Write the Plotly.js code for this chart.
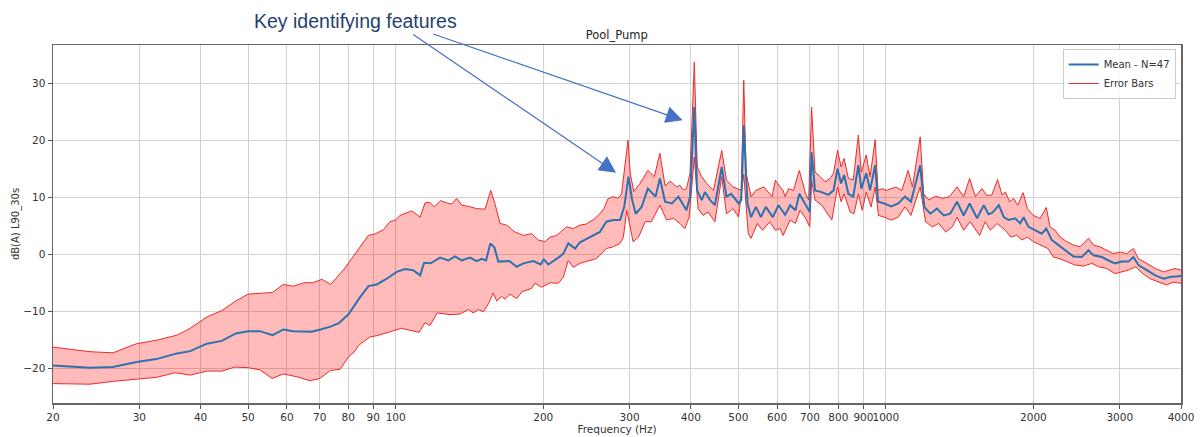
<!DOCTYPE html>
<html>
<head>
<meta charset="utf-8">
<script src="https://cdn.plot.ly/plotly-3.0.1.min.js"></script>
<style>
  html, body { margin: 0; padding: 0; background: #ffffff; }
  #chart { width: 1200px; height: 437px; }
</style>
</head>
<body>
<div id="chart"></div>
<script>
// Pool pump spectrum: mean level with upper/lower error envelope (dB(A), L90 over 30 s)

const upperFreq = [20, 23.8, 26.5, 29.6, 32.5, 35.8, 38.1, 41.2, 44.2, 47, 50, 52.9, 56.1, 59, 61.8, 65, 67.9, 70.7, 73.7, 78.5,
  84, 88, 91, 94.4, 97.4, 100, 102, 107.8, 112.2, 114.8, 117.5, 119.9, 123.6, 127.1, 130.2, 133.2, 136.4, 140.7, 146.3, 152.2,
  156.3, 159.4, 163.3, 168.4, 175.2, 182.2, 189.4, 195.4, 201.7, 206.6, 213, 223.3, 230.4, 237.7, 245, 254.4, 261, 266, 271, 278,
  284, 289, 297.8, 301, 306, 315, 327, 337, 346, 354.5, 363, 374.6, 380, 386, 392, 398.6, 406.7, 412.3, 421, 431,
  445, 462.6, 473, 488, 507, 513, 518.7, 531, 543, 564, 586, 595, 608.5, 617, 623, 633, 648, 666, 686, 696,
  705.5, 717, 734.4, 752, 769.7, 782, 797, 810.5, 822, 838.5, 858, 879, 891, 912, 928.5, 951, 964, 982, 1004, 1048,
  1078, 1110, 1133, 1175, 1194, 1224, 1263, 1305, 1348, 1397, 1441, 1482, 1523, 1571, 1608, 1645, 1690, 1726, 1753, 1789,
  1823, 1858, 1906, 1944, 2000, 2064, 2124, 2163, 2215, 2267, 2340, 2414, 2490, 2590, 2652, 2735, 2822, 2912, 3005, 3100,
  3198, 3275, 3407, 3544, 3686, 3801, 3890, 4000];
const upperDb = [-16.3, -17.1, -17.3, -15.7, -15.1, -14.2, -13.0, -11.0, -9.9, -8.3, -7.0, -6.8, -6.7, -5.3, -5.6, -5.0, -5.0, -4.4, -5.3, -2.6,
  1.0, 3.3, 3.6, 4.3, 5.7, 6.0, 6.8, 7.6, 6.5, 9.0, 9.1, 8.3, 9.4, 9.0, 8.8, 9.8, 8.6, 8.4, 8.0, 7.9,
  11.2, 8.9, 5.4, 5.1, 3.9, 3.3, 3.6, 2.5, 2.2, 3.0, 3.3, 4.8, 4.5, 5.1, 5.3, 6.2, 7.1, 8.0, 9.7, 10.1,
  9.8, 10.6, 20.0, 14.2, 11.0, 12.4, 14.7, 13.6, 17.7, 12.0, 12.8, 11.8, 12.1, 11.3, 11.5, 14.2, 33.7, 15.3, 13.6, 12.4,
  11.2, 18.2, 13.0, 11.8, 11.2, 30.5, 14.2, 10.1, 11.2, 11.8, 10.1, 13.0, 11.8, 11.2, 10.1, 11.5, 11.2, 14.7, 10.6, 9.5,
  25.8, 14.4, 13.6, 12.7, 13.3, 14.2, 18.2, 15.3, 16.8, 13.3, 13.0, 20.9, 14.4, 17.4, 13.6, 20.1, 11.2, 11.5, 11.2, 11.8,
  11.2, 14.7, 11.8, 20.6, 10.6, 9.5, 10.2, 9.8, 10.1, 11.8, 10.1, 13.3, 10.1, 11.5, 10.3, 10.4, 13.1, 10.4, 10.9, 9.2,
  9.8, 8.6, 10.8, 8.0, 6.8, 6.3, 8.2, 4.8, 4.2, 3.0, 2.2, 1.6, 1.3, 2.8, 1.6, 1.3, 0.7, 0.1, 0.4, 0.1,
  1.0, -0.8, -1.6, -2.5, -3.1, -2.8, -2.5, -2.8];

const meanFreq = [20, 23.8, 26.5, 29.6, 32.5, 35.8, 38.1, 41.2, 44.2, 47.2, 50, 52.9, 56.1, 59, 61.8, 64.5, 67.4, 70.3, 73.6, 76.6,
  80.2, 84.2, 88, 91.5, 95.9, 100.5, 104.5, 108.6, 112.2, 114.3, 117.9, 123.2, 128.1, 132.1, 136.4, 141.8, 146.3, 149.8, 152.9, 156,
  159, 162, 165.8, 170.6, 176.6, 182.2, 190.9, 197.6, 200.5, 204.8, 214.7, 219.8, 225, 232.3, 237.7, 249, 261, 269, 278, 287,
  292.6, 298.6, 303.7, 308.8, 317.5, 327, 339, 346, 354.5, 366, 377.5, 392, 398.6, 406.7, 412, 421, 427.5, 438, 448, 462.6,
  473, 483.5, 501, 507, 513, 522, 531, 543, 556, 569, 588, 604, 623, 638, 654, 666, 686, 699.5, 705.5, 717,
  740, 763, 782, 797, 810.5, 822, 838.5, 858, 879, 891, 912, 928.5, 951, 964, 993, 1025, 1060, 1094, 1125, 1175,
  1198, 1232, 1271, 1313, 1353, 1397, 1441, 1482, 1535, 1584, 1620, 1650, 1700, 1740, 1780, 1836, 1879, 1910, 1954, 2016,
  2080, 2124, 2180, 2250, 2340, 2414, 2510, 2590, 2652, 2757, 2845, 2934, 3029, 3125, 3198, 3275, 3407, 3544, 3686, 3801, 4000];
const meanDb = [-19.5, -19.9, -19.8, -18.9, -18.4, -17.4, -17.0, -15.7, -15.2, -13.9, -13.5, -13.5, -14.2, -13.2, -13.5, -13.6, -13.6, -13.2, -12.7, -12.1,
  -10.5, -7.8, -5.6, -5.3, -4.3, -3.1, -2.6, -2.8, -3.7, -1.5, -1.6, -0.6, -1.1, -0.4, -1.1, -0.6, -1.2, -0.8, -1.1, 1.9,
  1.2, -1.3, -1.2, -1.2, -2.2, -1.6, -1.2, -1.8, -0.9, -1.8, -0.6, 0.1, 1.9, 1.0, 2.1, 3.0, 3.9, 5.7, 6.0, 6.0,
  8.3, 13.6, 9.5, 7.1, 8.3, 11.5, 10.1, 13.3, 9.2, 8.9, 10.1, 7.7, 10.1, 25.8, 11.2, 9.5, 10.9, 9.5, 8.6, 15.3,
  10.1, 10.6, 8.9, 9.5, 22.6, 8.9, 6.5, 8.3, 6.5, 8.3, 6.5, 8.6, 6.9, 8.6, 7.7, 10.6, 8.6, 7.4, 17.9, 11.2,
  10.9, 10.4, 11.2, 15.0, 12.4, 13.9, 10.6, 10.1, 15.6, 11.5, 14.2, 11.2, 15.6, 9.2, 8.9, 8.4, 8.9, 10.1, 9.2, 15.6,
  8.3, 7.1, 8.0, 6.8, 7.1, 9.2, 6.8, 8.9, 6.3, 8.6, 7.0, 7.3, 8.6, 6.5, 6.0, 6.3, 5.4, 6.5, 4.8, 4.2,
  3.6, 4.5, 2.5, 1.6, 0.4, -0.4, -0.5, 0.7, -0.2, -0.5, -1.1, -1.6, -1.3, -1.3, -0.5, -1.9, -2.8, -3.7, -4.3, -4.0, -3.8];

const lowerFreq = [20, 23.8, 26.5, 29.6, 32.5, 35.5, 38.1, 41.2, 44.2, 47, 50, 52.9, 56, 59, 62.9, 66.9, 70, 73.6, 77, 80.2,
  82.6, 84, 88.7, 91.5, 97.4, 102.8, 111.7, 114.8, 117.5, 121.6, 129.1, 135.3, 140.7, 144, 147.5, 151, 154.6, 158.2, 160.7, 164.6,
  167.2, 171.1, 176.6, 180.8, 189.4, 192.4, 198.6, 206.6, 214.7, 219.8, 225, 230.4, 237.7, 245, 256, 261, 269, 278, 287, 291.5,
  296, 300, 305, 313, 322.8, 332.4, 346, 357, 369, 380, 389, 397, 406.7, 414, 424, 434, 448, 462.6, 473, 488,
  500.5, 513, 524, 531, 547, 560, 580, 595, 608.5, 617, 638, 654, 668.5, 686, 699.5, 705.5, 717, 740, 757, 776,
  797, 810.5, 822, 845.6, 861, 879, 895, 912, 933, 951, 966, 993, 1025, 1060, 1094, 1125, 1175, 1205, 1244, 1282,
  1324, 1366, 1397, 1441, 1486, 1553, 1595, 1633, 1687, 1711, 1753, 1800, 1850, 1895, 1944, 2000, 2064, 2140, 2197, 2267,
  2340, 2433, 2530, 2632, 2713, 2822, 2934, 3029, 3125, 3236, 3338, 3460, 3600, 3740, 3850, 4000];
const lowerDb = [-22.7, -22.8, -22.3, -21.9, -21.6, -20.8, -21.2, -20.5, -20.5, -19.8, -19.9, -20.3, -21.8, -21.0, -21.5, -22.2, -21.8, -20.4, -20.2, -18.0,
  -17.0, -16.0, -14.5, -14.3, -13.6, -13.0, -13.7, -12.0, -12.5, -10.3, -10.6, -10.5, -9.7, -10.3, -9.7, -10.1, -8.7, -6.8, -8.2, -7.4,
  -7.9, -7.0, -7.8, -6.6, -6.0, -5.1, -5.8, -5.0, -5.1, -4.0, -1.1, -2.3, -1.6, -1.3, -0.8, -0.2, 1.0, 1.3, 1.9, 3.0,
  7.7, 5.4, 2.2, 3.0, 5.7, 5.7, 8.6, 6.0, 6.3, 5.4, 4.5, 6.5, 17.0, 8.0, 6.8, 7.4, 5.7, 13.6, 7.1, 8.0,
  6.5, 14.0, 3.6, 2.8, 5.4, 4.2, 5.7, 4.2, 4.5, 3.3, 6.0, 5.4, 7.7, 6.3, 4.8, 13.0, 9.5, 8.6, 7.4, 6.0,
  11.8, 9.2, 10.6, 7.4, 7.1, 10.6, 7.7, 10.9, 8.3, 11.8, 6.8, 6.5, 6.0, 6.5, 8.3, 6.8, 11.8, 5.7, 4.8, 5.4,
  3.9, 4.8, 6.5, 4.2, 5.7, 3.3, 5.7, 4.2, 5.4, 5.0, 4.2, 3.0, 3.3, 2.5, 3.0, 2.2, 1.6, 1.0, -0.5, -0.8,
  -1.3, -1.9, -2.1, -1.6, -2.2, -2.5, -3.4, -3.1, -2.8, -2.2, -3.4, -4.3, -4.9, -5.4, -4.9, -5.1];

const xTickVals = [20, 30, 40, 50, 60, 70, 80, 90, 100, 200, 300, 400, 500, 600, 700, 800, 900, 1000, 2000, 3000, 4000];
const xTickText = ['20', '30', '40', '50', '60', '70', '80', '90', '100', '200', '300', '400', '500', '600', '700', '800', '900', '1000', '2000', '3000', '4000'];
const yTickVals = [-20, -10, 0, 10, 20, 30];

const featureTips = [[281.6, 14.3], [385, 23.5]];

const tickFont = { family: 'DejaVu Sans, sans-serif', size: 10.5, color: '#333333' };
const errColor = '#f02828';

const traces = [
  {
    x: lowerFreq, y: lowerDb, type: 'scatter', mode: 'lines',
    name: 'Error Bars', legendrank: 2,
    line: { color: errColor, width: 1 },
    hoverinfo: 'skip'
  },
  {
    x: upperFreq, y: upperDb, type: 'scatter', mode: 'lines',
    name: 'Error Bars', showlegend: false,
    fill: 'tonexty', fillcolor: 'rgba(255, 0, 0, 0.27)',
    line: { color: errColor, width: 1 },
    hoverinfo: 'skip'
  },
  {
    x: meanFreq, y: meanDb, type: 'scatter', mode: 'lines',
    name: 'Mean - N=47', legendrank: 1,
    line: { color: '#2c72b0', width: 2 }
  }
];

const arrowTails = [[411.7, 33.3], [431.7, 33.3]];

const layout = {
  width: 1200, height: 437,
  margin: { l: 53, r: 19, t: 45, b: 34 },
  paper_bgcolor: '#ffffff', plot_bgcolor: '#ffffff',
  font: { family: 'DejaVu Sans, sans-serif', color: '#333333' },
  title: {
    text: 'Pool_Pump', x: 0.5139, xanchor: 'center', y: 1 - 35 / 437, yanchor: 'middle',
    font: { family: 'DejaVu Sans, sans-serif', size: 11.5, color: '#222222' }
  },
  xaxis: {
    type: 'log', range: [Math.log10(20) - 1e-5, Math.log10(4000) + 1e-5],
    tickmode: 'array', tickvals: xTickVals, ticktext: xTickText, tickangle: 0,
    ticks: 'outside', ticklen: 4, tickcolor: '#555555', tickfont: tickFont,
    showgrid: true, gridcolor: '#d2d2d2', gridwidth: 1,
    showline: true, linecolor: '#666666', linewidth: 1.5, mirror: true,
    zeroline: false,
    title: { text: 'Frequency (Hz)', font: { family: 'DejaVu Sans, sans-serif', size: 10.5, color: '#333333' }, standoff: 2 }
  },
  yaxis: {
    range: [-26.1, 36.7],
    tickmode: 'array', tickvals: yTickVals,
    ticks: 'outside', ticklen: 4, tickcolor: '#555555', tickfont: tickFont,
    showgrid: true, gridcolor: '#d2d2d2', gridwidth: 1,
    showline: true, linecolor: '#666666', linewidth: 1.5, mirror: true,
    zeroline: false,
    title: { text: 'dB(A) L90_30s', font: { family: 'DejaVu Sans, sans-serif', size: 10, color: '#333333' }, standoff: 1 }
  },
  legend: {
    x: 0.9953, xanchor: 'right', y: 0.9888, yanchor: 'top',
    traceorder: 'normal',
    bgcolor: 'rgba(255,255,255,0.85)', bordercolor: '#cccccc', borderwidth: 1,
    font: { family: 'DejaVu Sans, sans-serif', size: 10, color: '#333333' },
    tracegroupgap: 0, itemwidth: 30
  },
  annotations: [
    {
      xref: 'paper', yref: 'paper', x: (251.7 - 53) / 1128, y: (403 - 20.9) / 358,
      xanchor: 'left', yanchor: 'middle', showarrow: false,
      text: 'Key identifying features',
      font: { family: 'Liberation Sans, Arial, sans-serif', size: 19.5, color: '#263f6e' }
    }
  ]
};

// arrows from the caption down to the tonal peaks
featureTips.forEach(function (tip, i) {
  const px = 53 + 490.2 * Math.log10(tip[0] / 20);
  const py = 254 - 5.7 * tip[1];
  layout.annotations.push({
    x: Math.log10(tip[0]), y: tip[1], xref: 'x', yref: 'y',
    text: '', showarrow: true,
    arrowhead: 2, arrowsize: 2.8, arrowwidth: 1.2, arrowcolor: '#4472c4',
    ax: arrowTails[i][0] - px, ay: arrowTails[i][1] - py
  });
});

Plotly.newPlot('chart', traces, layout, { displayModeBar: false, staticPlot: true });
</script>
</body>
</html>
